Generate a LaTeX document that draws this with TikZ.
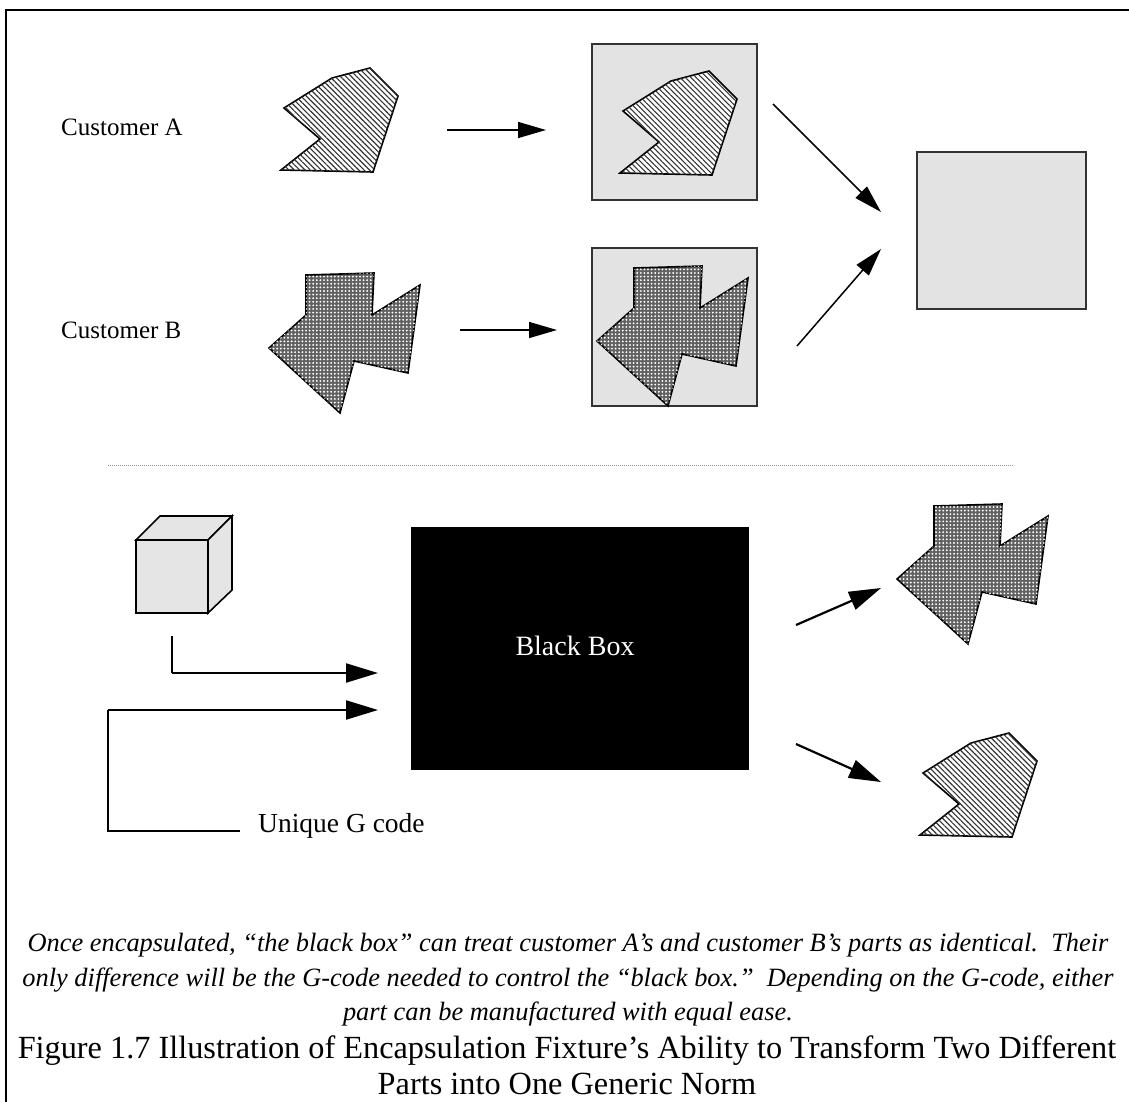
\documentclass[tikz,border=0pt]{standalone}
\usepackage{fontspec}
\setmainfont{Liberation Serif}
\usetikzlibrary{arrows.meta,patterns,patterns.meta}
\pgfdeclarepatternformonly{bigdots}{\pgfqpoint{-1pt}{-1pt}}{\pgfqpoint{1pt}{1pt}}{\pgfqpoint{3.6pt}{3.6pt}}{%
  \pgfpathcircle{\pgfqpoint{0pt}{0pt}}{1.05pt}\pgfusepath{fill}}
\tikzset{
  outline/.style={draw=black,line width=1.6pt,line join=miter},
  lightbox/.style={draw=black!80,line width=1.6pt,fill=black!11,inner sep=0pt,outer sep=0pt},
  hatchA/.style={outline,fill=white,postaction={pattern={Lines[angle=-45,distance=3.8pt,line width=1.1pt]},pattern color=black!80}},
  dotB/.style={outline,fill=black!62,postaction={pattern=bigdots,pattern color=white}},
  arr/.style={line width=1.5pt,-{Triangle[length=28pt,width=16pt]}},
  arrb/.style={line width=2.2pt,-{Triangle[length=32pt,width=19pt]}},
  conn/.style={line width=2pt},
  lbl/.style={font=\fontsize{25}{28}\selectfont,inner sep=0pt,anchor=west},
  parta/.pic={\draw[hatchA] (0,0)--(48,-30)--(86,-40)--(114,-12)--(89,64)--(-3,62)--(36,31)--cycle;},
  partb/.pic={\draw[dotB] (0,0)--(68,-2)--(66,40)--(114,10)--(102,98)--(48,86)--(34,138)--(-37,73)--(0,40)--cycle;}
}
\begin{document}
\begin{tikzpicture}[x=1pt,y=-1pt]
\useasboundingbox (0,0) rectangle (1129,1101);
\clip (0,0) rectangle (1129,1101);
% frame
\draw[line width=2pt] (6,1120) -- (6,10) -- (1140,10);
% top part
\node[lbl] (ca) at (61,127) {Customer A};
\node[lbl] (cb) at (61,330) {Customer B};
\pic at (284,108) {parta};
\pic at (306,275) {partb};
\node[lightbox,minimum width=165pt,minimum height=156pt] (boxa) at (674.5,122) {};
\node[lightbox,minimum width=165pt,minimum height=158pt] (boxb) at (674.5,327) {};
\pic at (623,111) {parta};
\pic at (634,268) {partb};
\node[lightbox,minimum width=169pt,minimum height=157pt] (norm) at (1001.5,230.5) {};
\coordinate (a1s) at (447,130); \coordinate (a1e) at (546,130);
\coordinate (b1s) at (460,330); \coordinate (b1e) at (557,330);
\coordinate (a2s) at (773,104); \coordinate (a2e) at (881,212);
\coordinate (b2s) at (797,346); \coordinate (b2e) at (881,249);
\draw[arr] (a1s) -- (a1e);
\draw[arr] (b1s) -- (b1e);
\draw[arr] (a2s) -- (a2e);
\draw[arr] (b2s) -- (b2e);
% divider
\coordinate (dl) at (108,465); \coordinate (dr) at (1014,465);
\draw[black!45,line width=1pt,densely dotted] (dl) -- (dr);
% cube
\draw[outline,fill=black!10] (136,540) rectangle (208,613);
\draw[outline,fill=black!10] (136,540) -- (160,516) -- (232,516) -- (208,540) -- cycle;
\draw[outline,fill=black!10] (208,540) -- (232,516) -- (232,590) -- (208,613) -- cycle;
\coordinate (cube) at (172,636);
% black box
\node[fill=black,minimum width=338pt,minimum height=243pt,inner sep=0pt] (bb) at (580,648.5) {};
\node[text=white,font=\fontsize{28}{30}\selectfont,inner sep=0pt] (bbt) at (575,646) {Black Box};
% connectors
\coordinate (c1) at (172,673); \coordinate (c1e) at (378,673);
\draw[conn] (cube) -- (c1);
\draw[arrb] (c1) -- (c1e);
\node[lbl,font=\fontsize{27.5}{30}\selectfont] (gcode) at (258,826) {Unique G code};
\coordinate (g0) at (240,831); \coordinate (g1) at (108,831); \coordinate (g2) at (108,710); \coordinate (g3) at (378,710);
\draw[conn] (g0) -- (g1) -- (g2);
\draw[arrb] (g2) -- (g3);
% outputs
\pic at (934,506) {partb};
\pic at (923,773) {parta};
\coordinate (o1s) at (796,625); \coordinate (o1e) at (881,588);
\coordinate (o2s) at (796,744); \coordinate (o2e) at (881,782);
\draw[arrb] (o1s) -- (o1e);
\draw[arrb] (o2s) -- (o2e);
% captions
\node[font=\fontsize{26.4}{34.5}\selectfont\itshape,align=center,inner sep=0pt] (cap1) at (568,980) {Once encapsulated, ``the black box'' can treat customer A's and customer B's parts as identical.\ \ Their\\only difference will be the G-code needed to control the ``black box.''\ \ Depending on the G-code, either\\part can be manufactured with equal ease.};
\node[font=\fontsize{32.3}{36}\selectfont,align=center,inner sep=0pt] (cap2) at (567,1065) {Figure 1.7 Illustration of Encapsulation Fixture's Ability to Transform Two Different\\Parts into One Generic Norm};
\end{tikzpicture}
\end{document}
